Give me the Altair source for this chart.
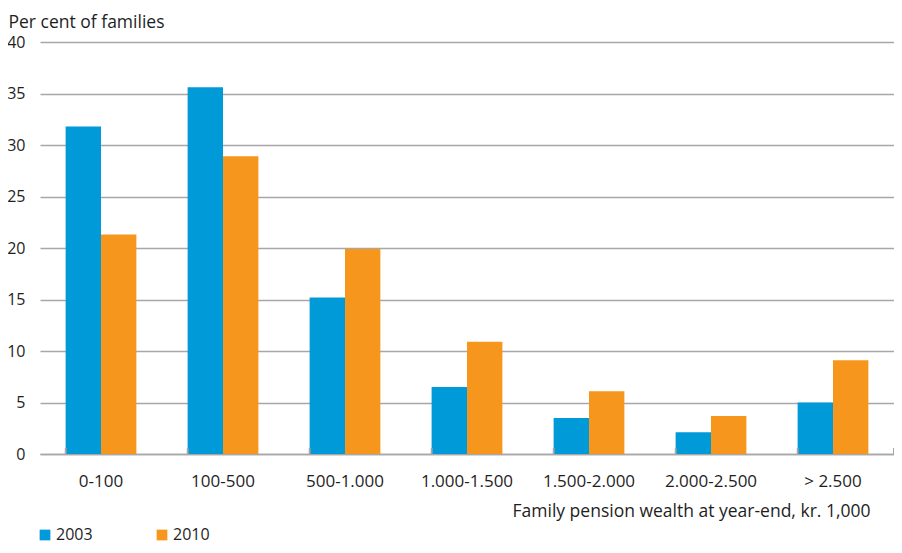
import altair as alt
import pandas as pd

categories = ["0-100", "100-500", "500-1.000", "1.000-1.500", "1.500-2.000", "2.000-2.500", "> 2.500"]
values_2003 = [31.8, 35.6, 15.2, 6.5, 3.5, 2.1, 5.0]
values_2010 = [21.3, 28.9, 19.9, 10.9, 6.1, 3.7, 9.1]
years = ["2003", "2010"]
colors = ["#009ad8", "#f7961d"]

rows = []
for c, a, b in zip(categories, values_2003, values_2010):
    rows.append({"cat": c, "year": "2003", "value": a})
    rows.append({"cat": c, "year": "2010", "value": b})
df = pd.DataFrame(rows)

FONT = "Open Sans"
TXT = "#1e1e1e"
W, H = 854, 412

xscale = alt.Scale(domain=categories, paddingInner=0.42, paddingOuter=0.21)

bars = alt.Chart(df).mark_bar().encode(
    x=alt.X("cat:N", sort=categories, scale=xscale,
            axis=alt.Axis(title="Family pension wealth at year-end, kr. 1,000",
                          labelAngle=0, labelFontSize=17, labelColor=TXT, labelPadding=19,
                          ticks=False, domainColor="#a7a7a9", domainWidth=1.5,
                          titleFontSize=17.5, titleFontWeight="normal", titleColor=TXT,
                          titleAnchor="end", titleAlign="right", titleX=W - 24, titleY=62,
                          titleBaseline="alphabetic")),
    xOffset=alt.XOffset("year:N", sort=years),
    y=alt.Y("value:Q", scale=alt.Scale(domain=[0, 40]),
            axis=alt.Axis(values=list(range(0, 41, 5)), title="Per cent of families",
                          labelFontSize=16, labelColor=TXT, labelPadding=15,
                          ticks=False, domain=False,
                          gridColor="#a7a7a9", gridWidth=1.5,
                          titleAngle=0, titleAlign="left", titleBaseline="alphabetic",
                          titleX=-32, titleY=-15, titleFontSize=17.5,
                          titleFontWeight="normal", titleColor=TXT)),
    color=alt.Color("year:N", sort=years, scale=alt.Scale(domain=years, range=colors),
                    legend=alt.Legend(title=None, orient="none", legendX=-3, legendY=485,
                                      direction="horizontal", symbolType="square",
                                      symbolSize=115, symbolStrokeWidth=0, labelFontSize=16,
                                      labelColor=TXT, columnPadding=61, labelOffset=3)),
)

ticks = alt.Chart(df).mark_rule(color="#a7a7a9", strokeWidth=1.5).encode(
    x=alt.X("cat:N", sort=categories, scale=xscale, bandPosition=0),
    y=alt.value(H - 6), y2=alt.value(H),
)
end_tick = alt.Chart(df).mark_rule(color="#a7a7a9", strokeWidth=1.5).encode(
    x=alt.value(W), y=alt.value(H - 6), y2=alt.value(H),
)

chart = alt.layer(bars, ticks, end_tick).properties(
    width=W, height=H,
    autosize=alt.AutoSizeParams(type="none"),
    padding={"left": 32, "top": 34, "right": 0, "bottom": 91},
).configure(font=FONT).configure_view(stroke=None)

chart.save("out.html", embed_options={"renderer": "svg", "actions": False})
